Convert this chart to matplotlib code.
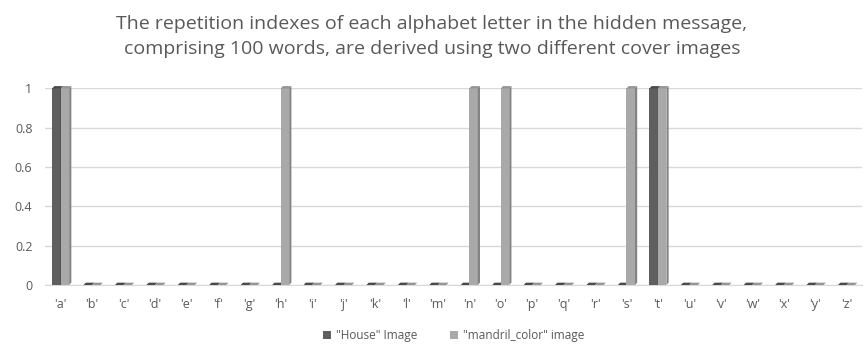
import matplotlib.pyplot as plt
import matplotlib.ticker as mticker
from matplotlib.patches import Polygon
import numpy as np

# ====== Dados ================================================================

letters = list("abcdefghijklmnopqrstuvwxyz")
tick_labels = [f"'{c}'" for c in letters]
house = [1, 0, 0, 0, 0, 0, 0, 0, 0, 0, 0, 0, 0, 0, 0, 0, 0, 0, 0, 1,
         0, 0, 0, 0, 0, 0]
mandril = [1, 0, 0, 0, 0, 0, 0, 1, 0, 0, 0, 0, 0, 1, 1, 0, 0, 0, 1, 1,
           0, 0, 0, 0, 0, 0]

series_names = ['"House" Image', '"mandril_color" image']
face_colors = ["#5f5f5f", "#a9a9a9"]
side_colors = ["#3f3f3f", "#838383"]
top_colors = ["#4a4a4a", "#959595"]
text_color = "#595959"

plt.rcParams["font.family"] = ["Open Sans", "DejaVu Sans"]

# ====== Figura ===============================================================

fig = plt.figure(figsize=(8.64, 3.51), dpi=100)
ax = fig.add_axes([0.052, 0.188, 0.946, 0.56])

x = np.arange(len(letters))
width = 0.27
dx, dy = 0.07, 0.012  # profundidade do efeito 3D

for i, (vals, fc, sc, tc) in enumerate(zip([house, mandril], face_colors,
                                           side_colors, top_colors)):
    offset = (i - 0.5) * width
    bars = ax.bar(x + offset, vals, width, color=fc, label=series_names[i],
                  zorder=3, clip_on=False)
    for b in bars:
        x0, x1 = b.get_x(), b.get_x() + b.get_width()
        h = b.get_height()
        side = Polygon([(x1, 0), (x1 + dx, dy), (x1 + dx, h + dy), (x1, h)],
                       closed=True, color=sc, zorder=3, lw=0, clip_on=False)
        top = Polygon([(x0, h), (x0 + dx, h + dy), (x1 + dx, h + dy), (x1, h)],
                      closed=True, color=tc, zorder=3, lw=0, clip_on=False)
        ax.add_patch(side)
        ax.add_patch(top)

ax.set_xlim(-0.5, len(letters) - 0.5)
ax.set_ylim(0, 1.0)
ax.set_xticks(x)
ax.set_xticklabels(tick_labels)
ax.yaxis.set_major_locator(mticker.MultipleLocator(0.2))
ax.yaxis.set_major_formatter(mticker.FuncFormatter(
    lambda v, _: f"{v:g}"))
ax.tick_params(axis="both", length=0, colors=text_color, labelsize=9)
ax.tick_params(axis="x", pad=9)
ax.tick_params(axis="y", pad=9)

ax.grid(axis="y", color="#d9d9d9", linewidth=1, zorder=0)
for s in ["top", "right", "left"]:
    ax.spines[s].set_visible(False)
ax.spines["bottom"].set_color("#d9d9d9")

fig.suptitle("The repetition indexes of each alphabet letter in the hidden message,\n"
             "comprising 100 words, are derived using two different cover images",
             y=0.958, fontsize=14, color=text_color, linespacing=1.55)

ax.legend(loc="upper center", bbox_to_anchor=(0.5, -0.17), ncol=2,
          frameon=False, fontsize=8.5, labelcolor=text_color,
          handlelength=0.7, handleheight=0.7, columnspacing=2.8,
          handletextpad=0.4)

plt.savefig("out.png", dpi=100)
plt.close()
